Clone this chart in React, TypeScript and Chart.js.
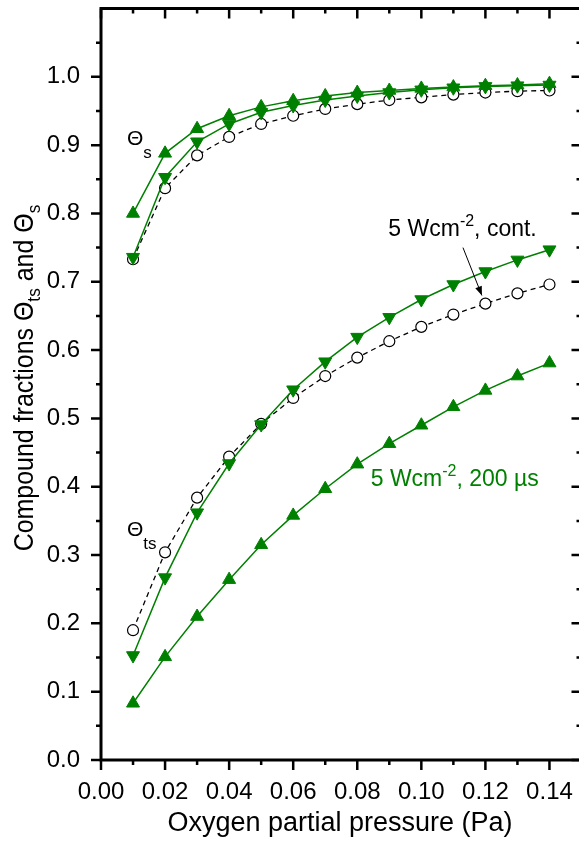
import { useEffect, useRef } from 'react';
import { Chart, registerables } from 'chart.js';

Chart.register(...registerables);

// ---- data ----
const pressure = [0.01, 0.02, 0.03, 0.04, 0.05, 0.06, 0.07, 0.08, 0.09, 0.10, 0.11, 0.12, 0.13, 0.14];
const thetaS_200us = [0.800, 0.888, 0.924, 0.943, 0.956, 0.965, 0.972, 0.977, 0.980, 0.983, 0.985, 0.987, 0.988, 0.990];
const thetaS_down = [0.736, 0.853, 0.905, 0.931, 0.948, 0.958, 0.966, 0.972, 0.977, 0.981, 0.984, 0.986, 0.987, 0.988];
const thetaS_cont = [0.733, 0.837, 0.885, 0.912, 0.931, 0.943, 0.953, 0.960, 0.966, 0.970, 0.974, 0.977, 0.979, 0.980];
const thetaTs_down = [0.153, 0.267, 0.362, 0.434, 0.491, 0.542, 0.583, 0.619, 0.648, 0.674, 0.696, 0.715, 0.732, 0.747];
const thetaTs_cont = [0.190, 0.304, 0.384, 0.444, 0.492, 0.530, 0.562, 0.589, 0.613, 0.634, 0.652, 0.668, 0.683, 0.696];
const thetaTs_200us = [0.083, 0.151, 0.210, 0.264, 0.315, 0.358, 0.397, 0.433, 0.463, 0.490, 0.517, 0.541, 0.562, 0.581];

const xMajorTicks = [0.0, 0.02, 0.04, 0.06, 0.08, 0.10, 0.12, 0.14];
const xMinorTicks = [0.01, 0.03, 0.05, 0.07, 0.09, 0.11, 0.13];
const yMajorTicks = [0.0, 0.1, 0.2, 0.3, 0.4, 0.5, 0.6, 0.7, 0.8, 0.9, 1.0];
const yMinorTicks = [0.05, 0.15, 0.25, 0.35, 0.45, 0.55, 0.65, 0.75, 0.85, 0.95, 1.05];

const xAxisTitle = 'Oxygen partial pressure (Pa)';
const contLabel = { x: 0.0897, y: 0.767 };
const pulsedLabel = { x: 0.0842, y: 0.401 };
const arrowFrom = { x: 0.113, y: 0.750 };
const arrowTo = { x: 0.1189, y: 0.680 };
const thetaSLabel = { x: 0.0081, y: 0.900 };
const thetaTsLabel = { x: 0.0081, y: 0.328 };

const GREEN = 'rgb(0,128,0)';
const FONT = '"Liberation Sans", Arial, sans-serif';

type Part = { t: string; size: number; dy: number };

function drawRich(ctx: CanvasRenderingContext2D, x: number, y: number, parts: Part[], color: string, measureOnly = false) {
  let cx = x;
  ctx.fillStyle = color;
  ctx.textAlign = 'left';
  ctx.textBaseline = 'alphabetic';
  for (const p of parts) {
    ctx.font = `${p.size}px ${FONT}`;
    if (!measureOnly) ctx.fillText(p.t, cx, y + p.dy);
    cx += ctx.measureText(p.t).width;
  }
  return cx - x;
}

const framePlugin = {
  id: 'framePlugin',
  afterDraw(chart: any) {
    const { ctx, chartArea, scales } = chart;
    const { left, right, top, bottom } = chartArea;
    const xs = scales.x;
    const ys = scales.y;
    ctx.save();
    ctx.strokeStyle = '#000';
    ctx.lineWidth = 3;
    ctx.strokeRect(left, top, right - left, bottom - top);
    ctx.lineWidth = 2.5;
    const major = 10;
    const minor = 5;
    ctx.beginPath();
    for (const v of xMajorTicks) {
      const px = xs.getPixelForValue(v);
      ctx.moveTo(px, bottom); ctx.lineTo(px, bottom + major);
      ctx.moveTo(px, top); ctx.lineTo(px, top + major);
    }
    for (const v of xMinorTicks) {
      const px = xs.getPixelForValue(v);
      ctx.moveTo(px, bottom); ctx.lineTo(px, bottom + minor);
      ctx.moveTo(px, top); ctx.lineTo(px, top + minor);
    }
    for (const v of yMajorTicks) {
      const py = ys.getPixelForValue(v);
      ctx.moveTo(left, py); ctx.lineTo(left - major, py);
      ctx.moveTo(right, py); ctx.lineTo(right - major, py);
    }
    for (const v of yMinorTicks) {
      const py = ys.getPixelForValue(v);
      ctx.moveTo(left, py); ctx.lineTo(left - minor, py);
      ctx.moveTo(right, py); ctx.lineTo(right - minor, py);
    }
    ctx.stroke();

    // x axis title
    ctx.fillStyle = '#000';
    ctx.font = `27px ${FONT}`;
    ctx.textAlign = 'center';
    ctx.textBaseline = 'alphabetic';
    ctx.fillText(xAxisTitle, 340, 831);

    // y axis title (rotated, with subscripts)
    const yParts: Part[] = [
      { t: 'Compound fractions \u0398', size: 26, dy: 0 },
      { t: 'ts', size: 18, dy: 7 },
      { t: ' and \u0398', size: 26, dy: 0 },
      { t: 's', size: 18, dy: 7 },
    ];
    ctx.save();
    ctx.translate(33, 378);
    ctx.rotate(-Math.PI / 2);
    ctx.scale(0.96, 1.05);
    const w = drawRich(ctx, 0, 0, yParts, '#000', true);
    drawRich(ctx, -w / 2, 0, yParts, '#000');
    ctx.restore();

    // annotations
    drawRich(ctx, xs.getPixelForValue(thetaSLabel.x), ys.getPixelForValue(thetaSLabel.y), [
      { t: '\u0398', size: 21, dy: 0 },
      { t: 's', size: 17, dy: 13 },
    ], '#000');
    drawRich(ctx, xs.getPixelForValue(thetaTsLabel.x), ys.getPixelForValue(thetaTsLabel.y), [
      { t: '\u0398', size: 21, dy: 0 },
      { t: 'ts', size: 17, dy: 13 },
    ], '#000');
    drawRich(ctx, xs.getPixelForValue(contLabel.x), ys.getPixelForValue(contLabel.y), [
      { t: '5 Wcm', size: 23, dy: 0 },
      { t: '-2', size: 16, dy: -10 },
      { t: ', cont.', size: 23, dy: 0 },
    ], '#000');
    drawRich(ctx, xs.getPixelForValue(pulsedLabel.x), ys.getPixelForValue(pulsedLabel.y), [
      { t: '5 Wcm', size: 23, dy: 0 },
      { t: '-2', size: 16, dy: -10 },
      { t: ', 200 \u00b5s', size: 23, dy: 0 },
    ], GREEN);

    // arrow
    const ax0 = xs.getPixelForValue(arrowFrom.x);
    const ay0 = ys.getPixelForValue(arrowFrom.y);
    const ax1 = xs.getPixelForValue(arrowTo.x);
    const ay1 = ys.getPixelForValue(arrowTo.y);
    ctx.strokeStyle = '#000';
    ctx.lineWidth = 1;
    ctx.beginPath();
    ctx.moveTo(ax0, ay0);
    ctx.lineTo(ax1, ay1);
    ctx.stroke();
    const ang = Math.atan2(ay1 - ay0, ax1 - ax0);
    const hl = 9;
    const hw = 3.5;
    ctx.fillStyle = '#000';
    ctx.beginPath();
    ctx.moveTo(ax1, ay1);
    ctx.lineTo(ax1 - hl * Math.cos(ang) + hw * Math.sin(ang), ay1 - hl * Math.sin(ang) - hw * Math.cos(ang));
    ctx.lineTo(ax1 - hl * Math.cos(ang) - hw * Math.sin(ang), ay1 - hl * Math.sin(ang) + hw * Math.cos(ang));
    ctx.closePath();
    ctx.fill();
    ctx.restore();
  },
};

function pts(ys: number[]) {
  return pressure.map((x, i) => ({ x, y: ys[i] }));
}

export default function App() {
  const ref = useRef<HTMLCanvasElement | null>(null);
  useEffect(() => {
    if (!ref.current) return;
    const greenStyle = (data: number[], down: boolean) => ({
      data: pts(data),
      borderColor: GREEN,
      backgroundColor: GREEN,
      borderWidth: 1.5,
      pointStyle: 'triangle',
      pointRotation: down ? 180 : 0,
      pointRadius: 7.5,
      pointBorderWidth: 1,
      pointBackgroundColor: GREEN,
      pointBorderColor: GREEN,
      tension: 0,
    });
    const contStyle = (data: number[]) => ({
      data: pts(data),
      borderColor: '#000',
      backgroundColor: '#fff',
      borderWidth: 1.3,
      borderDash: [5, 4],
      pointStyle: 'circle',
      pointRadius: 5.5,
      pointBorderWidth: 1.2,
      pointBackgroundColor: '#fff',
      pointBorderColor: '#000',
      tension: 0,
    });
    const chart = new Chart(ref.current, {
      type: 'line',
      data: {
        datasets: [
          greenStyle(thetaS_200us, false),
          greenStyle(thetaS_down, true),
          contStyle(thetaS_cont),
          greenStyle(thetaTs_down, true),
          greenStyle(thetaTs_200us, false),
          contStyle(thetaTs_cont),
        ] as any,
      },
      options: {
        animation: false,
        responsive: false,
        layout: { padding: { top: 5, right: 6, left: 0, bottom: 0 } },
        plugins: { legend: { display: false }, tooltip: { enabled: false } },
        scales: {
          x: {
            type: 'linear',
            min: 0,
            max: 0.15,
            grid: { display: false },
            border: { display: false },
            afterBuildTicks: (s: any) => { s.ticks = xMajorTicks.map((v) => ({ value: v })); },
            afterFit: (s: any) => { s.height = 83; s.paddingLeft = 0; s.paddingRight = 0; },
            ticks: {
              color: '#000',
              font: { family: FONT, size: 24 },
              padding: 10,
              maxRotation: 0,
              autoSkip: false,
              callback: (v: any) => Number(v).toFixed(2),
            },
          },
          y: {
            type: 'linear',
            min: 0,
            max: 1.1,
            grid: { display: false },
            border: { display: false },
            afterBuildTicks: (s: any) => { s.ticks = yMajorTicks.map((v) => ({ value: v })); },
            afterFit: (s: any) => { s.width = 101; s.paddingTop = 0; s.paddingBottom = 0; },
            ticks: {
              color: '#000',
              font: { family: FONT, size: 24 },
              padding: 13,
              autoSkip: false,
              callback: (v: any) => Number(v).toFixed(1),
            },
          },
        },
      },
      plugins: [framePlugin],
    });
    return () => chart.destroy();
  }, []);
  return (
    <div style={{ position: 'absolute', left: 0, top: 0, width: 579, height: 843, overflow: 'hidden', background: '#fff' }}>
      <canvas ref={ref} width={590} height={843} style={{ display: 'block' }} />
    </div>
  );
}
